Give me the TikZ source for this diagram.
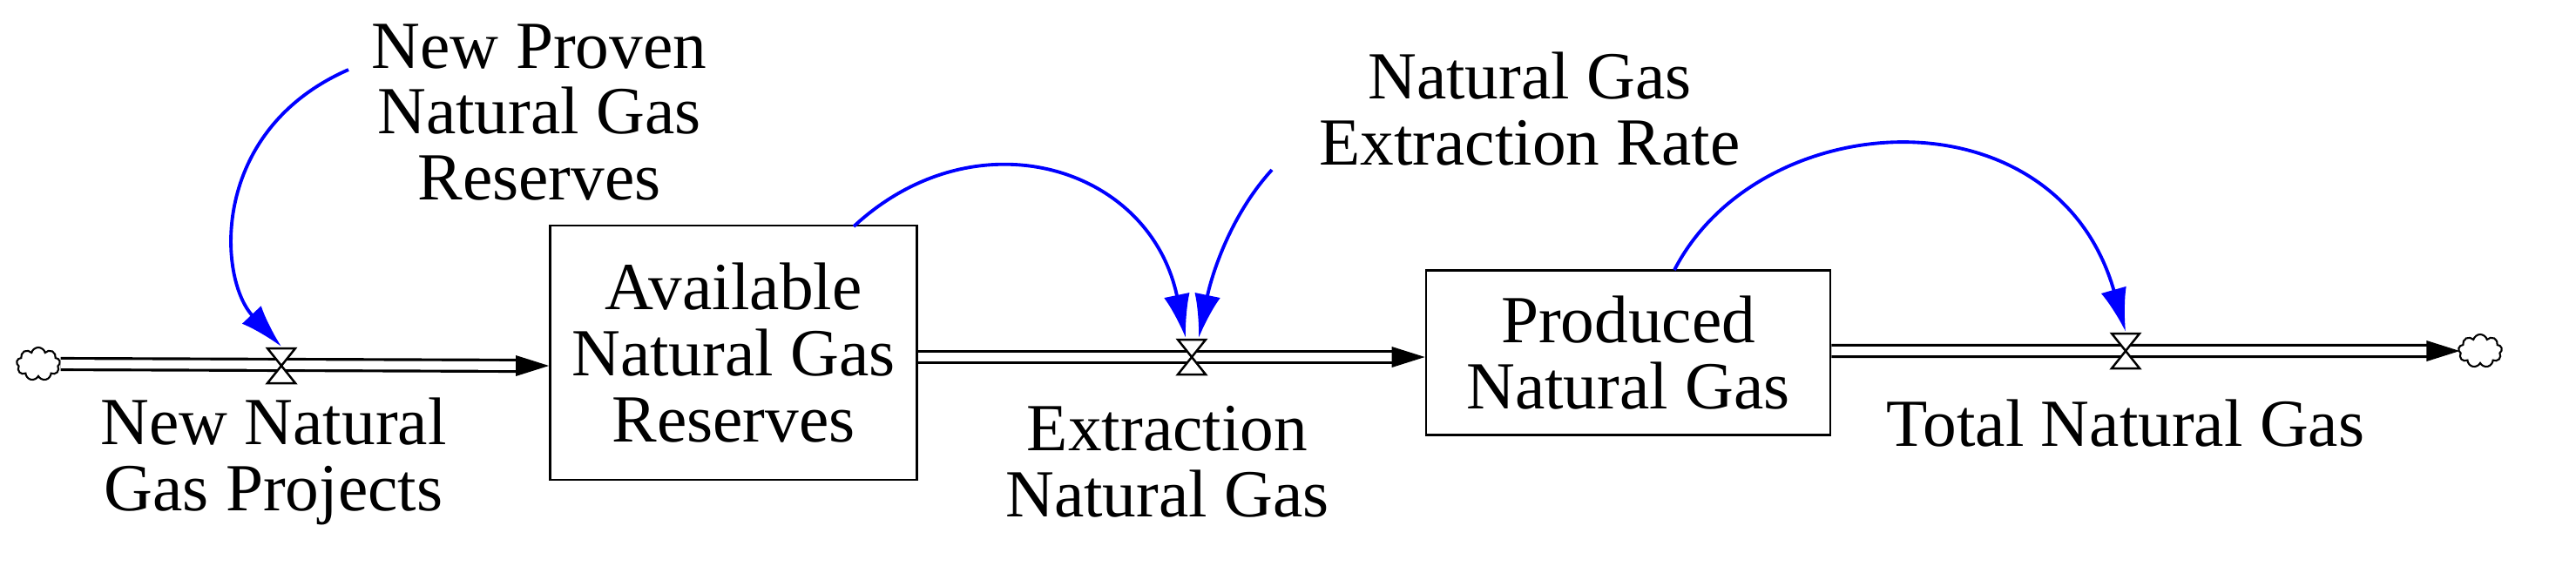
\documentclass[tikz,border=0pt]{standalone}
\usepackage{fontspec}
\setmainfont{Liberation Serif}
\usetikzlibrary{shapes.symbols,arrows.meta,calc}
\begin{document}
\begin{tikzpicture}[
  txt/.style={align=center,font=\fontsize{22}{21.5}\selectfont,inner sep=0pt},
  stock/.style={draw,line width=0.8pt,txt,fill=white},
  pipe/.style={line width=0.9pt,double=white,double distance=2.8pt},
  infl/.style={blue,line width=1.1pt,-{Latex[length=0.5cm,width=0.3cm]}},
  cloudy/.style={cloud,cloud puffs=9,draw,line width=0.6pt,minimum width=0.5cm,minimum height=0.38cm,inner sep=0pt,fill=white},
  tipf/.style={fill=black}
]
\useasboundingbox (0,0) rectangle (29.57,-6.57);
% stocks
\node[stock,minimum width=4.21cm,minimum height=2.92cm] (box1) at (8.42,-4.05) {Available\\Natural Gas\\Reserves};
\node[stock,minimum width=4.64cm,minimum height=1.89cm] (box2) at (18.69,-4.05) {Produced\\Natural Gas};
% clouds
\node[cloudy] (c1) at (0.44,-4.18) {};
\node[cloudy] (c2) at (28.47,-4.03) {};
% valve points
\coordinate (v1) at (3.23,-4.20);
\coordinate (v2) at (13.68,-4.10);
\coordinate (v3) at (24.40,-4.03);
% pipe end points
\coordinate (p1e) at (box1.west |- v1);
\coordinate (p2s) at (box1.east |- v2);
\coordinate (p2e) at (box2.west |- v2);
\coordinate (p3s) at (box2.east |- v3);
\coordinate (p3e) at ($(c2.west)+(0.02,0)$);
% pipes
\draw[pipe] (c1.east) -- ($(p1e)+(-0.3,0)$);
\draw[pipe] (p2s) -- ($(p2e)+(-0.3,0)$);
\draw[pipe] (p3s) -- ($(p3e)+(-0.3,0)$);
\fill[tipf] (p1e) -- ++(-0.38,0.12) -- ++(0,-0.24) -- cycle;
\fill[tipf] (p2e) -- ++(-0.38,0.12) -- ++(0,-0.24) -- cycle;
\fill[tipf] (p3e) -- ++(-0.38,0.12) -- ++(0,-0.24) -- cycle;
% valves
\foreach \v in {v1,v2,v3}{
  \draw[line width=0.7pt,fill=white] ($(\v)+(-0.16,0.2)$) -- ($(\v)+(0.16,0.2)$) -- ($(\v)+(-0.16,-0.2)$) -- ($(\v)+(0.16,-0.2)$) -- cycle;
}
% labels
\node[txt] (lnp) at (6.19,-1.29) {New Proven\\Natural Gas\\Reserves};
\node[txt] (lnn) at (3.14,-5.30) {New Natural\\Gas Projects};
\node[txt] (ler) at (17.56,-1.25) {Natural Gas\\Extraction Rate};
\node[txt] (len) at (13.40,-5.30) {Extraction\\Natural Gas};
\node[txt] (ltn) at (24.40,-4.86) {Total Natural Gas};
% influences
\draw[infl] (4.00,-0.80) .. controls (2.4,-1.5) and (2.5,-3.2) .. ($(v1)+(0,0.22)$);
\draw[infl] (9.80,-2.60) .. controls (11.2,-1.3) and (13.2,-1.9) .. ($(v2)+(-0.07,0.22)$);
\draw[infl] (14.60,-1.95) .. controls (14.1,-2.5) and (13.9,-3.2) .. ($(v2)+(0.08,0.22)$);
\draw[infl] (19.22,-3.10) .. controls (20.2,-1.2) and (23.6,-1.0) .. ($(v3)+(0,0.22)$);
\end{tikzpicture}
\end{document}
